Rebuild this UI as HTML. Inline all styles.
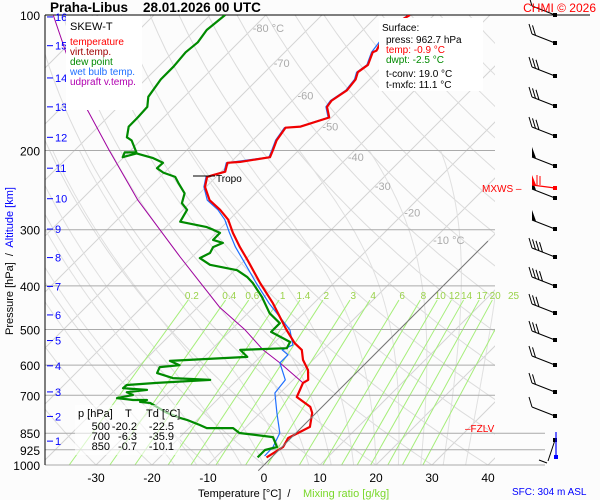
<!DOCTYPE html>
<html><head><meta charset="utf-8"><style>
html,body{margin:0;padding:0;background:#fcfcfc;}
svg{display:block;font-family:"Liberation Sans",sans-serif;}
text{white-space:pre;}
</style></head><body>
<svg id="c" width="600" height="500" viewBox="0 0 600 500">
<defs><clipPath id="pc"><rect x="45" y="15" width="450" height="450"/></clipPath></defs>
<rect x="0" y="0" width="600" height="500" fill="#fcfcfc"/>
<g id="grid" clip-path="url(#pc)"></g>
<g id="plines"></g>
<g id="series" clip-path="url(#pc)"></g>
<g id="labels"></g>
</svg>
<script>
// ---- data ----
const tempP=[962,912,871,845,823,766,743,706,657,647,615,584,555,536,500,437,394,350,328,305,285,271,258,241,229,227,223,213,212,207,200,190,178,177,169,160,155,147,139,134,129,121,120,114,107,100];
const tempT=[-0.9,0.2,-0.5,0.5,1.4,-0.7,-2.1,-6.3,-7.7,-7.3,-9.1,-11.8,-13.8,-16.3,-20.2,-27.3,-33.2,-39.6,-43.2,-47.0,-50.2,-53.4,-57.0,-60.2,-61.6,-60.9,-59.3,-60.5,-58.4,-53.9,-54.6,-55.7,-56.4,-53.9,-50.4,-52.7,-53.0,-52.1,-52.5,-53.4,-52.9,-54.3,-53.9,-54.8,-55.9,-54.3];
const dewP=[962,926,912,867,849,828,828,815,794,786,766,728,724,717,717,710,699,689,681,675,664,657,647,641,625,606,600,587,575,555,550,533,506,484,460,423,394,382,369,359,347,338,328,321,316,305,300,296,288,271,262,249,236,229,224,219,213,208,203,207,202,202,190,187,177,169,160,152,139,130,121,115,108,100];
const dewT=[-2.5,-2.5,-0.9,-3.4,-10.1,-12.1,-16.8,-18.6,-21.8,-23.4,-26.6,-31.4,-33.4,-32.5,-35.0,-38.2,-35.9,-37.5,-34.3,-38.9,-38.8,-33.8,-24.8,-31.8,-35.5,-36.1,-32.9,-35.4,-22.3,-24.8,-16.8,-17.3,-22.5,-22.5,-26.1,-30.4,-34.5,-36.6,-39.6,-45.4,-48.4,-47.5,-48.0,-47.0,-49.3,-49.3,-51.1,-52.7,-58.4,-59.3,-61.4,-62.7,-65.7,-67.3,-70.2,-72.1,-72.0,-74.6,-78.4,-80.2,-80.7,-78.6,-81.6,-83.0,-84.6,-84.6,-84.8,-86.4,-87.3,-87.3,-87.7,-87.3,-87.9,-87.3];
const wbP=[955,912,849,766,692,647,593,569,555,541,501,437,394,350,328,305,285,271,258,241,229,223,213,207,200,190,178,177,169,160,155,147,139,134,129,121,114,107,100];
const wbT=[-1.5,-1.6,-2.9,-7.0,-10.9,-11.4,-15.4,-15.4,-17.3,-16.3,-19.5,-28.0,-33.9,-40.4,-44.0,-47.6,-50.8,-53.8,-57.4,-60.4,-61.8,-59.5,-60.7,-54.1,-54.8,-55.9,-56.6,-54.1,-50.6,-52.9,-53.2,-52.3,-52.7,-53.6,-53.1,-54.5,-55.0,-56.0,-54.5];
const parP=[657,593,555,501,446,345,258,200,155,100];
const parT=[-7.7,-15.4,-20.7,-27.5,-36.1,-52.1,-69.8,-83.8,-97.5,-118];
const pLevels=[100,200,300,400,500,600,700,850,925,1000];
const xTicks=[-30,-20,-10,0,10,20,30,40];
const mixRatios=[0.2,0.4,0.6,1,1.4,2,3,4,6,8,10,12,14,17,20,25];
const isoLabels=[-80,-70,-60,-50,-40,-30,-20,-10];
const isoLabelP=[107,128,151,177,207,240,275,316];
const kmLevels=[1,2,3,4,5,6,7,8,9,10,11,12,13,14,15,16];
const kmPress=[885,780,688,602,529,464,401,346,299,256,219,187,160,138,117,101];

// ---- axis functions ----
function yP(p){return 15+450*Math.log10(p/100);}
function xT(T,p){return 264+5.6*T+(465-yP(p));}
const NS="http://www.w3.org/2000/svg";
function mk(tag,at,parent){const e=document.createElementNS(NS,tag);for(const k in at)e.setAttribute(k,at[k]);parent.appendChild(e);return e;}
const grid=document.getElementById('grid'),series=document.getElementById('series'),labels=document.getElementById('labels'),plines=document.getElementById('plines');
function pathFrom(pts){return pts.map((q,i)=>(i?'L':'M')+q[0].toFixed(1)+' '+q[1].toFixed(1)).join(' ');}

// isotherms
for(let T=-140;T<=40;T+=10){
  const l=mk('line',{x1:xT(T,1000),y1:yP(1000),x2:xT(T,100),y2:yP(100),stroke:'#d4d4d4','stroke-width':1},grid);
  
  
}
// dry adiabats
for(let th=-30;th<=200;th+=10){
  const pts=[];for(let p=1000;p>=100;p-=10){const T=(th+273.15)*Math.pow(p/1000,0.286)-273.15;pts.push([xT(T,p),yP(p)]);}
  const e=mk('path',{d:pathFrom(pts),fill:'none',stroke:'#dcdcdc','stroke-width':1},grid);
  
  
}
// moist adiabats
function es(T){return 6.112*Math.exp(17.67*T/(T+243.5));}
for(let t0=-16;t0<=36;t0+=4){
  const pts=[];let T=t0;
  for(let p=1000;p>=200;p-=5){
    pts.push([xT(T,p),yP(p)]);
    const Tk=T+273.15,e=es(T),rs=0.622*e/(p-e);
    const Lv=2.5e6,Rd=287,cp=1004;
    const dTdp=(Rd*Tk+Lv*rs)/(p*(cp+Lv*Lv*rs*0.622/(Rd*Tk*Tk)));
    T-=dTdp*5;
  }
  const e=mk('path',{d:pathFrom(pts),fill:'none',stroke:'#e0e0e0','stroke-width':1},grid);
  
  
}
// mixing ratio lines
function tMix(w,p){const e=w*p/(622+w);const l=Math.log(e/6.112);return 243.5*l/(17.67-l);}
mixRatios.forEach(w=>{
  const e=mk('line',{x1:xT(tMix(w,1000),1000),y1:yP(1000),x2:xT(tMix(w,430),430),y2:yP(430),stroke:'#a6ee7a','stroke-width':1},grid);
  
  
  const t=mk('text',{x:xT(tMix(w,419),419),y:299,'font-size':10,fill:'#9ad24a','text-anchor':'middle'},labels);t.textContent=w;
  
  
});
// 0C isotherm darker
{const e=mk('line',{x1:xT(0,1030),y1:yP(1030),x2:xT(0,318),y2:yP(318),stroke:'#777','stroke-width':1},labels);

}

// pressure lines & labels
pLevels.forEach(p=>{
  const y=yP(p);const x2=p===100?590:(p>=850?545:495);
  const l=mk('line',{x1:45,y1:y,x2:x2,y2:y,stroke:p===100?'#000':'#aaa','stroke-width':1},plines);
  
  
  const t=mk('text',{x:40,y:y+5,'font-size':12,fill:'#000','text-anchor':'end'},labels);t.textContent=p;
  
  
});
{const a=mk('line',{x1:45,y1:15,x2:45,y2:465,stroke:'#000','stroke-width':1},labels);

}
// km
kmLevels.forEach((k,i)=>{
  const y=yP(kmPress[i]);
  const l=mk('line',{x1:47,y1:y,x2:53,y2:y,stroke:'#00f','stroke-width':1},labels);
  
  
  const t=mk('text',{x:55,y:y+4,'font-size':11,fill:'#00f'},labels);t.textContent=k;
  
  
});
// x ticks
xTicks.forEach(T=>{
  const t=mk('text',{x:xT(T,1000),y:482,'font-size':12,fill:'#000','text-anchor':'middle'},labels);t.textContent=T;
  
  
});
// isotherm labels
isoLabels.forEach((T,i)=>{
  const p=isoLabelP[i];
  const t=mk('text',{x:xT(T,p),y:yP(p)+4,'font-size':11,fill:'#aaa'},labels);t.textContent=(T===-80||T===-10)?T+' °C':T;
  
  
});

// series
function seriesPath(P,T,color,w,name){
  const pts=P.map((p,i)=>[xT(T[i],p),yP(p)]);
  const e=mk('path',{d:pathFrom(pts),fill:'none',stroke:color,'stroke-width':w,'stroke-linejoin':'round'},series);
  
  
}
seriesPath(parP,parT,'#a000a0',1,'updraft-line');
seriesPath(wbP,wbT,'#1e6fff',1.2,'wet-bulb-line');
seriesPath(dewP,dewT,'#008a00',2.2,'dew-point-line');
seriesPath(tempP,tempT,'#f00000',2.2,'temperature-line');

// tropopause
{const l=mk('line',{x1:193,y1:176,x2:215,y2:176,stroke:'#000','stroke-width':1},labels);


const t=mk('text',{x:216,y:182,'font-size':10,fill:'#000'},labels);t.textContent='Tropo';

}

// wind barbs
const barbY=[15,43,76,106,136,166,198,229,257,286,313,340,365,392,416];
const barbN=[1,2,3,3,3,-1,-1,-1,4,4,3,3,2,2,1];
barbY.forEach((y,i)=>{
  const x0=555,x1=532,y1=y-9;
  const g=mk('g',{},labels);
  
  
  mk('line',{x1:x0,y1:y,x2:x1,y2:y1,stroke:'#000','stroke-width':1},g);
  mk('rect',{x:x0-2,y:y-2,width:4,height:4,fill:'#000'},g);
  const n=barbN[i];
  if(n<0){mk('path',{d:`M${x1} ${y1} L${x1} ${y1-10} L${x1+4} ${y1+1}Z`,fill:'#000'},g);}
  else for(let k=0;k<n;k++){const bx=x1+k*3.5,by=y1+k*1.4;mk('line',{x1:bx,y1:by,x2:bx-3,y2:by-10,stroke:'#000','stroke-width':1},g);}
});
{const g=mk('g',{},labels);


mk('line',{x1:555,y1:188,x2:532,y2:185,stroke:'#f00','stroke-width':1.2},g);
mk('rect',{x:553,y:186,width:4,height:4,fill:'#f00'},g);
mk('path',{d:'M532 185 L532 175 L536 185Z',fill:'#f00'},g);
mk('line',{x1:537,y1:185,x2:537,y2:175,stroke:'#f00'},g);mk('line',{x1:540,y1:185,x2:540,y2:176,stroke:'#f00'},g);
mk('line',{x1:555,y1:440,x2:548,y2:461,stroke:'#000'},g);mk('rect',{x:553,y:438,width:4,height:4,fill:'#000'},g);
mk('line',{x1:556,y1:432,x2:556,y2:457,stroke:'#00f','stroke-width':1.2},g);mk('rect',{x:554,y:455,width:4,height:4,fill:'#00f'},g);
mk('line',{x1:547,y1:463,x2:539,y2:460,stroke:'#000'},g);}

// text blocks
function txt(x,y,s,size,fill,name,extra){const t=mk('text',Object.assign({x:x,y:y,'font-size':size,fill:fill},extra||{}),labels);t.textContent=s;

return t;}
mk('rect',{x:66,y:16,width:76,height:94,fill:'#fff'},labels);
txt(70,30,'SKEW-T',11,'#000','legend-title');
txt(70,45,'temperature',10,'#f00','legend-temperature');
txt(70,55,'virt.temp.',10,'#a00000','legend-virt-temp');
txt(70,65,'dew point',10,'#008a00','legend-dew-point');
txt(70,75,'wet bulb temp.',10,'#1e6fff','legend-wet-bulb');
txt(70,85,'udpraft v.temp.',10,'#b000b0','legend-updraft');
mk('rect',{x:379,y:18,width:104,height:73,fill:'#fff'},labels);
txt(382,31,'Surface:',10,'#000','surface-title');
txt(386,43,'press: 962.7 hPa',10,'#000','surface-press');
txt(386,53,'temp: -0.9 °C',10,'#f00','surface-temp');
txt(386,63,'dwpt: -2.5 °C',10,'#008a00','surface-dwpt');
txt(386,77,'t-conv: 19.0 °C',10,'#000','surface-tconv');
txt(386,88,'t-mxfc: 11.1 °C',10,'#000','surface-tmxfc');
mk('rect',{x:75,y:405,width:105,height:50,fill:'#fff','fill-opacity':0.6},labels);
txt(78,417,'p [hPa]',11,'#000','table-header-p');
txt(125,417,'T',11,'#000','table-header-t');
txt(146,417,'Td [°C]',11,'#000','table-header-td');
[['500','-20.2','-22.5',430],['700','-6.3','-35.9',440],['850','-0.7','-10.1',450]].forEach(r=>{
  txt(110,r[3],r[0],11,'#000','table-pressure',{'text-anchor':'end'});
  txt(137,r[3],r[1],11,'#000','table-temp',{'text-anchor':'end'});
  txt(174,r[3],r[2],11,'#000','table-dewpoint',{'text-anchor':'end'});
});
txt(50,12,'Praha-Libus    28.01.2026 00 UTC',13.5,'#000','chart-title',{'font-weight':'bold'});
txt(596,12,'CHMI © 2026',12,'#f00','copyright',{'text-anchor':'end'});
txt(482,192,'MXWS –',10,'#f00','mxws-label');
txt(465,432,'–FZLV',10,'#f00','fzlv-label');
txt(198,497,'Temperature [°C]  /',11,'#000','x-axis-title');
txt(303,497,'Mixing ratio [g/kg]',11,'#7ad82a','x-axis-title-mixing');
txt(512,495,'SFC: 304 m ASL',10,'#00f','surface-height');
{const t=mk('text',{x:0,y:0,'font-size':11,transform:'translate(13,335) rotate(-90)'},labels);


const a=mk('tspan',{fill:'#000'},t);a.textContent='Pressure [hPa]  /  ';
const b=mk('tspan',{fill:'#00f'},t);b.textContent='Altitude [km]';}
</script>
</body></html>
